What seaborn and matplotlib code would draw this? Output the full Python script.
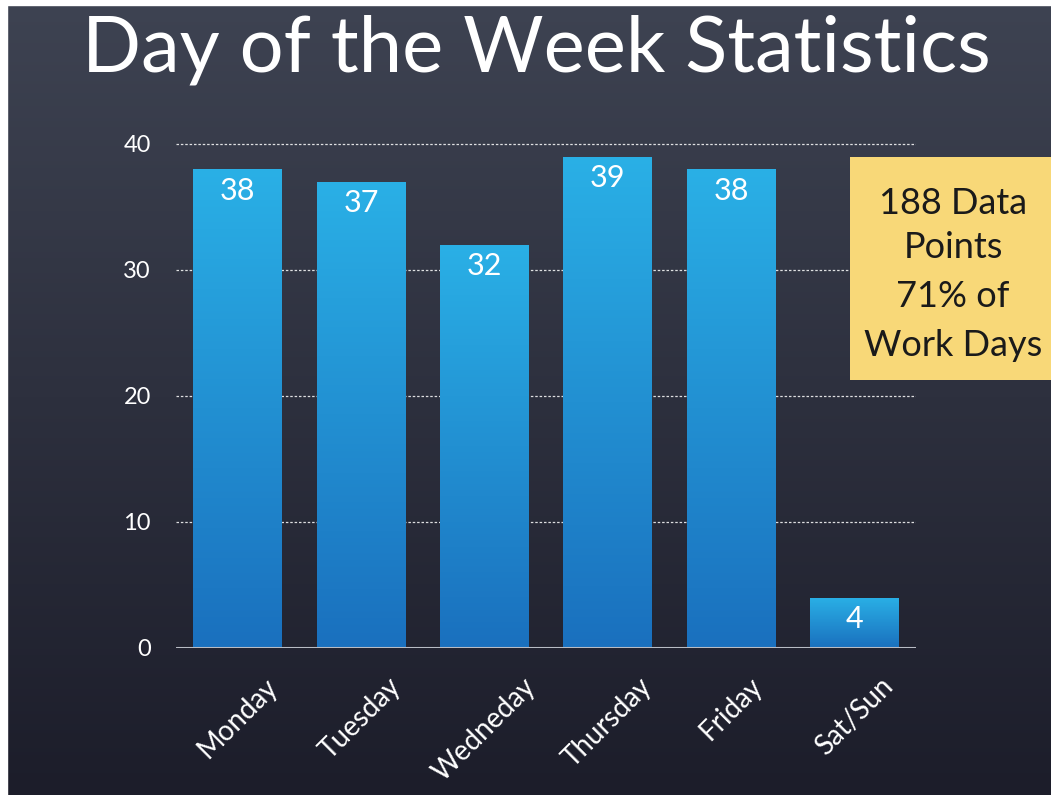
import seaborn as sns
import matplotlib.pyplot as plt
import matplotlib.patches as mpatches
import numpy as np
import pandas as pd

# chart data
days = ["Monday", "Tuesday", "Wedneday", "Thursday", "Friday", "Sat/Sun"]
counts = [38, 37, 32, 39, 38, 4]
y_ticks = [0, 10, 20, 30, 40]
title = "Day of the Week Statistics"
note_lines = ["188 Data", "Points", "71% of", "Work Days"]

df = pd.DataFrame({"day": days, "count": counts})

sns.set_style("dark")
plt.rcParams["font.family"] = ["Lato", "DejaVu Sans"]

W, H = 1051, 795
fig = plt.figure(figsize=(W / 100, H / 100), dpi=100)
fig.patch.set_facecolor("#1c1d2a")

# chalkboard background (dark slate gradient)
bg = fig.add_axes([0, 0, 1, 1], zorder=-10)
grad = np.linspace(0, 1, 256).reshape(-1, 1)
top_c = np.array([0x3e, 0x43, 0x52]) / 255
bot_c = np.array([0x1c, 0x1d, 0x2a]) / 255
img = top_c[None, None, :] * (1 - grad[:, :, None]) + bot_c[None, None, :] * grad[:, :, None]
bg.imshow(img, aspect="auto", extent=[0, 1, 0, 1], origin="upper")
# thin white margins at top and left, as in the scanned slide
bg.add_patch(mpatches.Rectangle((0, 0), 7 / W, 1, color="white", zorder=5))
bg.add_patch(mpatches.Rectangle((0, 1 - 5 / H), 1, 5 / H, color="white", zorder=5))
bg.set_xlim(0, 1)
bg.set_ylim(0, 1)
bg.set_axis_off()

# main axes
ax = fig.add_axes([176 / W, 1 - 648 / H, 740 / W, (648 - 131.4) / H])
ax.set_facecolor("none")
sns.barplot(data=df, x="day", y="count", color="#25a0dc", width=0.72,
            saturation=1, ax=ax, zorder=3)

# vertical gradient on each bar
bar_grad = np.linspace(0, 1, 256).reshape(-1, 1)
c_top = np.array([0x2a, 0xb0, 0xe6]) / 255
c_bot = np.array([0x1a, 0x70, 0xbe]) / 255
bar_img = c_top[None, None, :] * (1 - bar_grad[:, :, None]) + c_bot[None, None, :] * bar_grad[:, :, None]
for p in ax.patches:
    x0, w, h = p.get_x(), p.get_width(), p.get_height()
    im = ax.imshow(bar_img, aspect="auto", extent=[x0, x0 + w, 0, h],
                   origin="upper", zorder=3.5)
    im.set_clip_path(p)
    p.set_edgecolor("none")

# value labels inside bars
for i, v in enumerate(counts):
    ax.text(i, v - 1.7, str(v), ha="center", va="center", color="white",
            fontsize=22, zorder=5)

ax.set_xlim(-0.5, 5.5)
ax.set_ylim(0, 41)
ax.set_yticks(y_ticks)
ax.set_yticklabels([str(t) for t in y_ticks], color="white", fontsize=17)
ax.set_xticks(range(len(days)))
ax.set_xticklabels(days, rotation=45, ha="center", va="top", color="white",
                   fontsize=20)
ax.tick_params(axis="both", length=0)
ax.tick_params(axis="y", pad=18)
ax.tick_params(axis="x", pad=18)
ax.set_xlabel("")
ax.set_ylabel("")

for t in y_ticks[1:]:
    ax.axhline(t, color="white", linestyle=(0, (2, 1.5)), linewidth=0.9,
               alpha=0.85, zorder=1)
ax.axhline(0, color="#b9bcc4", linewidth=2.2, zorder=6)
for s in ax.spines.values():
    s.set_visible(False)
ax.grid(False)

# title
fig.text(0.51, 1 - 50 / H, title, ha="center", va="center", color="white",
         fontsize=56)

# sticky note
note = mpatches.Rectangle((850 / W, 1 - 380 / H), 220 / W, 223 / H,
                          transform=fig.transFigure, facecolor="#f8d878",
                          edgecolor="none", zorder=20)
fig.patches.append(note)
note_y = [203, 248, 297, 345]
for line, yy in zip(note_lines, note_y):
    fig.text(953 / W, 1 - yy / H, line, ha="center", va="center",
             color="#1a1a1a", fontsize=26, zorder=21)

fig.savefig("out.png", dpi=100, facecolor=fig.get_facecolor())
